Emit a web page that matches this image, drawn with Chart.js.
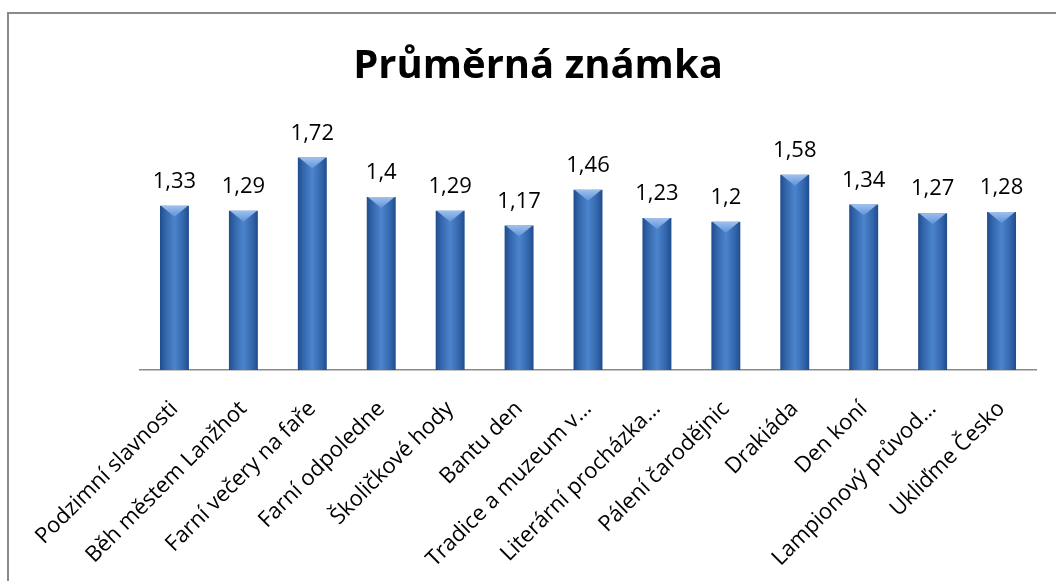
<!DOCTYPE html>
<html>
<head>
<meta charset="utf-8">
<script src="https://cdn.jsdelivr.net/npm/chart.js@4"></script>
<style>
    html, body { margin: 0; padding: 0; background: #fff; }
    #wrap { position: relative; width: 1056px; height: 581px; overflow: hidden; }
    #frame { position: absolute; left: 7px; top: 12px; width: 1060px; height: 600px;
             border-top: 2px solid #8a8a8a; border-left: 2px solid #8a8a8a; }
    canvas { position: absolute; left: 0; top: 0; }
</style>
</head>
<body>
<div id="wrap">
    <div id="frame"></div>
    <canvas id="gradeChart" width="1056" height="581"></canvas>
</div>
<script>
// Data
const categories = ['Podzimní slavnosti', 'Běh městem Lanžhot', 'Farní večery na faře', 'Farní odpoledne',
    'Školičkové hody', 'Bantu den', 'Tradice a muzeum v…', 'Literární procházka…', 'Pálení čarodějnic',
    'Drakiáda', 'Den koní', 'Lampionový průvod…', 'Ukliďme Česko'];
const grades = [1.33, 1.29, 1.72, 1.4, 1.29, 1.17, 1.46, 1.23, 1.2, 1.58, 1.34, 1.27, 1.28];
const valueLabels = ['1,33', '1,29', '1,72', '1,4', '1,29', '1,17', '1,46', '1,23', '1,2', '1,58', '1,34', '1,27', '1,28'];
const chartTitle = 'Průměrná známka';

const BAR_W = 29;

// horizontal "cylinder" gradient per bar
function barFill(context) {
    const chart = context.chart;
    const xScale = chart.scales.x;
    const cx = xScale ? xScale.getPixelForValue(context.dataIndex) : NaN;
    if (!isFinite(cx)) return '#3d72b8';
    const g = chart.ctx.createLinearGradient(cx - BAR_W / 2, 0, cx + BAR_W / 2, 0);
    g.addColorStop(0, '#1f4d8c');
    g.addColorStop(0.2, '#3467ad');
    g.addColorStop(0.5, '#4c84cc');
    g.addColorStop(0.8, '#3467ad');
    g.addColorStop(1, '#1f4d8c');
    return g;
}

// bevel on top of each bar, value labels and the title
const barDecor = {
    id: 'barDecor',
    afterDatasetsDraw(chart) {
        const ctx = chart.ctx;
        const meta = chart.getDatasetMeta(0);
        meta.data.forEach((bar, i) => {
            const l = bar.x - bar.width / 2, r = bar.x + bar.width / 2, t = bar.y;
            ctx.save();
            const g = ctx.createLinearGradient(0, t, 0, t + 11);
            g.addColorStop(0, '#9ec0ee');
            g.addColorStop(1, '#5f93d8');
            ctx.fillStyle = g;
            ctx.beginPath();
            ctx.moveTo(l + 1, t);
            ctx.lineTo(r - 1, t);
            ctx.lineTo(bar.x, t + 11);
            ctx.closePath();
            ctx.fill();
            ctx.fillStyle = '#000';
            ctx.font = '22px "Open Sans"';
            ctx.textAlign = 'center';
            ctx.textBaseline = 'alphabetic';
            ctx.fillText(valueLabels[i], bar.x, t - 18);
            ctx.restore();
        });
        ctx.save();
        ctx.fillStyle = '#000';
        ctx.font = 'bold 40px "Open Sans"';
        ctx.textAlign = 'center';
        ctx.textBaseline = 'alphabetic';
        ctx.fillText(chartTitle, 538, 78);
        ctx.restore();
    }
};

const gradeChart = new Chart(document.getElementById('gradeChart').getContext('2d'), {
    type: 'bar',
    data: {
        labels: categories,
        datasets: [{
            label: chartTitle,
            data: grades,
            backgroundColor: barFill,
            borderWidth: 0,
            barPercentage: 0.42,
            categoryPercentage: 1
        }]
    },
    options: {
        responsive: false,
        animation: false,
        layout: {
            padding: { left: 140, right: 20, top: 123, bottom: 0 }
        },
        plugins: {
            legend: { display: false },
            tooltip: { enabled: false },
            title: { display: false }
        },
        scales: {
            y: {
                display: false,
                min: 0,
                max: 2
            },
            x: {
                grid: { display: false },
                border: { display: true, color: '#8a8a8a', width: 1.5 },
                ticks: {
                    color: '#000',
                    font: { family: 'Open Sans', size: 22 },
                    minRotation: 45,
                    maxRotation: 45,
                    autoSkip: false,
                    padding: 18
                },
                afterFit(scale) { scale.height = 211; scale.paddingLeft = 0; }
            }
        }
    },
    plugins: [barDecor]
});
// redraw once so the gradients use the laid-out scale
gradeChart.update();
</script>
</body>
</html>
